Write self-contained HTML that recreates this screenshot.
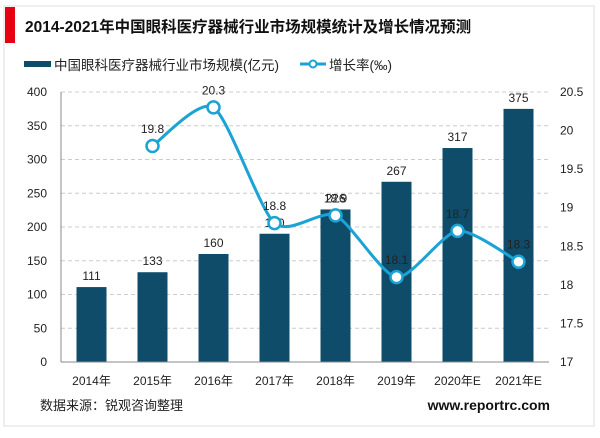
<!DOCTYPE html>
<html><head><meta charset="utf-8"><style>
body{margin:0;background:#fff;font-family:"Liberation Sans","Noto Sans CJK SC",sans-serif;}
svg text{font-family:"Liberation Sans","Noto Sans CJK SC",sans-serif;}
</style></head><body>
<svg width="600" height="433">
<rect x="4" y="6" width="590" height="420" fill="#fff" stroke="#ddd"/>
<rect x="5" y="7" width="10" height="36" fill="#e60012"/>
<text x="25" y="32" font-size="15.5" font-weight="bold" fill="#111">2014-2021年中国眼科医疗器械行业市场规模统计及增长情况预测</text>
<g>
<rect x="24" y="61" width="27" height="6" fill="#0e4c6a"/>
<text x="54" y="70" font-size="13.5" fill="#222">中国眼科医疗器械行业市场规模(亿元)</text>
<line x1="300" y1="64" x2="326" y2="64" stroke="#1aa3d4" stroke-width="3"/>
<circle cx="313" cy="64" r="3.5" fill="#fff" stroke="#1aa3d4" stroke-width="2"/>
<text x="329" y="70" font-size="13.5" fill="#222">增长率(‰)</text>
</g>
<g id="grid"></g><g id="bars"></g><g id="line"></g><g id="axes"></g>
<text x="40" y="410" font-size="13" fill="#222">数据来源：锐观咨询整理</text>
<text x="550" y="410" font-size="14" font-weight="bold" fill="#111" text-anchor="end">www.reportrc.com</text>
</svg>
<script>
const categories=["2014年","2015年","2016年","2017年","2018年","2019年","2020年E","2021年E"];
const sizes=[111,133,160,190,226,267,317,375];
const growth=[null,19.8,20.3,18.8,18.9,18.1,18.7,18.3];
const leftTicks=[0,50,100,150,200,250,300,350,400];
const rightTicks=[17,17.5,18,18.5,19,19.5,20,20.5];
const NS="http://www.w3.org/2000/svg";
const x0=61,slot=61,yTop=92,yBot=362;
const yL=v=>yBot-(v/400)*(yBot-yTop);
const yR=v=>yBot-((v-17)/3.5)*(yBot-yTop);
const xC=i=>x0+slot*(i+0.5);
function mk(t,a,p){const e=document.createElementNS(NS,t);for(const k in a)e.setAttribute(k,a[k]);document.getElementById(p).appendChild(e);return e;}
leftTicks.forEach(v=>{
 if(v>0){const g=mk('line',{x1:x0,x2:x0+slot*8,y1:yL(v),y2:yL(v),stroke:'#ccc','stroke-dasharray':'4,3'},'grid');
 
 }
 const t=mk('text',{x:x0-14,y:yL(v)+4,'font-size':12,'text-anchor':'end',fill:'#222'},'axes');t.textContent=v;
 
 
});
rightTicks.forEach(v=>{const t=mk('text',{x:560,y:yR(v)+4,'font-size':12,fill:'#222'},'axes');t.textContent=v;
 
 });
const ax=mk('line',{x1:x0,x2:x0,y1:yTop,y2:yBot,stroke:'#888'},'axes');


const bx=mk('line',{x1:x0,x2:x0+slot*8,y1:yBot,y2:yBot,stroke:'#888'},'axes');


categories.forEach((c,i)=>{
 const t=mk('text',{x:xC(i),y:385,'font-size':12,'text-anchor':'middle',fill:'#222'},'axes');t.textContent=c;
 
 
 const b=mk('rect',{x:xC(i)-15,y:yL(sizes[i]),width:30,height:yBot-yL(sizes[i]),fill:'#0e4c6a'},'bars');
 
 
 const l=mk('text',{x:xC(i),y:yL(sizes[i])-7,'font-size':12,'text-anchor':'middle',fill:'#222'},'bars');l.textContent=sizes[i];
 
 
});
const pts=[];growth.forEach((v,i)=>{if(v!==null)pts.push([xC(i),yR(v),v]);});
let d='M'+pts[0][0]+','+pts[0][1];
for(let i=0;i<pts.length-1;i++){
 const p0=pts[Math.max(0,i-1)],p1=pts[i],p2=pts[i+1],p3=pts[Math.min(pts.length-1,i+2)];
 const k=0.12;
 d+=` C${p1[0]+(p2[0]-p0[0])*k},${p1[1]+(p2[1]-p0[1])*k} ${p2[0]-(p3[0]-p1[0])*k},${p2[1]-(p3[1]-p1[1])*k} ${p2[0]},${p2[1]}`;
}
const ln=mk('path',{d:d,fill:'none',stroke:'#1aa3d4','stroke-width':3},'line');


pts.forEach(p=>{
 const c=mk('circle',{cx:p[0],cy:p[1],r:6,fill:'#fff',stroke:'#1aa3d4','stroke-width':2.5},'line');
 
 
 const t=mk('text',{x:p[0],y:p[1]-13,'font-size':12,'text-anchor':'middle',fill:'#222'},'line');t.textContent=p[2];
 
 
});
</script>
</body></html>
